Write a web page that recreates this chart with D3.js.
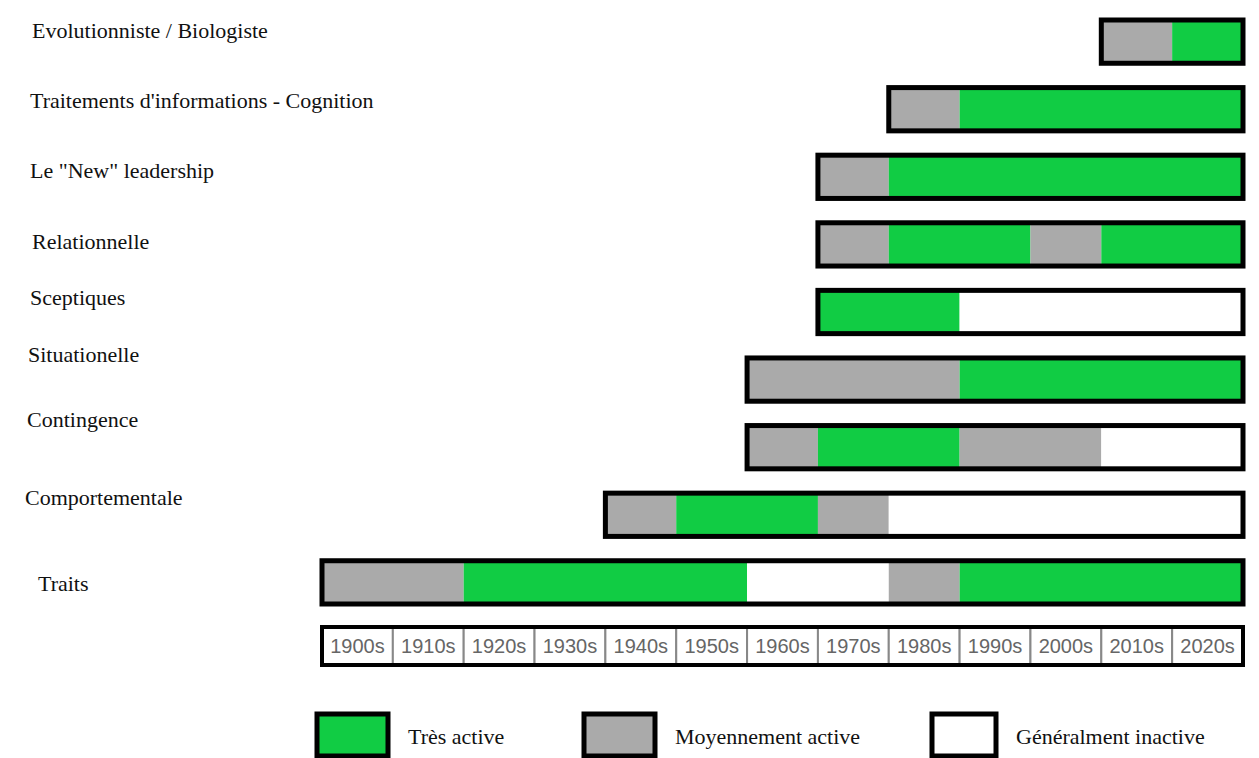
<!DOCTYPE html>
<html>
<head>
<meta charset="utf-8">
<script src="https://cdn.jsdelivr.net/npm/d3@7"></script>
<style>
  body { margin: 0; background: #fff; }
</style>
</head>
<body>
<div id="chart"></div>
<script>
// Theories (top to bottom)
const theories = [
    "Evolutionniste / Biologiste",
    "Traitements d'informations - Cognition",
    "Le \"New\" leadership",
    "Relationnelle",
    "Sceptiques",
    "Situationelle",
    "Contingence",
    "Comportementale",
    "Traits"
];

// Decades on the axis
const decades = ["1900s", "1910s", "1920s", "1930s", "1940s", "1950s", "1960s",
                 "1970s", "1980s", "1990s", "2000s", "2010s", "2020s"];

// Activity levels
const levels = ["Très active", "Moyennement active", "Généralment inactive"];

// Segments per theory: start year, end year, level index
const periods = [
    { theory: "Evolutionniste / Biologiste", start: 2010, end: 2020, level: 1 },
    { theory: "Evolutionniste / Biologiste", start: 2020, end: 2030, level: 0 },

    { theory: "Traitements d'informations - Cognition", start: 1980, end: 1990, level: 1 },
    { theory: "Traitements d'informations - Cognition", start: 1990, end: 2030, level: 0 },

    { theory: "Le \"New\" leadership", start: 1970, end: 1980, level: 1 },
    { theory: "Le \"New\" leadership", start: 1980, end: 2030, level: 0 },

    { theory: "Relationnelle", start: 1970, end: 1980, level: 1 },
    { theory: "Relationnelle", start: 1980, end: 2000, level: 0 },
    { theory: "Relationnelle", start: 2000, end: 2010, level: 1 },
    { theory: "Relationnelle", start: 2010, end: 2030, level: 0 },

    { theory: "Sceptiques", start: 1970, end: 1990, level: 0 },
    { theory: "Sceptiques", start: 1990, end: 2030, level: 2 },

    { theory: "Situationelle", start: 1960, end: 1990, level: 1 },
    { theory: "Situationelle", start: 1990, end: 2030, level: 0 },

    { theory: "Contingence", start: 1960, end: 1970, level: 1 },
    { theory: "Contingence", start: 1970, end: 1990, level: 0 },
    { theory: "Contingence", start: 1990, end: 2010, level: 1 },
    { theory: "Contingence", start: 2010, end: 2030, level: 2 },

    { theory: "Comportementale", start: 1940, end: 1950, level: 1 },
    { theory: "Comportementale", start: 1950, end: 1970, level: 0 },
    { theory: "Comportementale", start: 1970, end: 1980, level: 1 },
    { theory: "Comportementale", start: 1980, end: 2030, level: 2 },

    { theory: "Traits", start: 1900, end: 1920, level: 1 },
    { theory: "Traits", start: 1920, end: 1960, level: 0 },
    { theory: "Traits", start: 1960, end: 1980, level: 2 },
    { theory: "Traits", start: 1980, end: 1990, level: 1 },
    { theory: "Traits", start: 1990, end: 2030, level: 0 }
];

const width = 1259;
const height = 758;

// hand-placed label layout (the original labels aren't on a regular grid)
const labelX = [32, 30, 30, 32, 30, 28, 27, 25, 38];
const labelNudge = [0, 1, 2, 4, -9, -21, -25, -17, 0];
// legend swatch positions
const legendPos = [317, 584, 932];
const legendW = [71, 71, 64];

const svg = d3.select("#chart")
    .append("svg")
    .attr("width", width)
    .attr("height", height);

// x: years -> pixels
const x = d3.scaleLinear()
    .domain([1900, 2030])
    .range([322, 1243]);

// y: one band per theory
const y = d3.scaleBand()
    .domain(theories)
    .range([20, 604])
    .paddingInner(0.36);

const yLabel = d3.scalePoint()
    .domain(theories)
    .range([30, 583]);

const color = d3.scaleOrdinal()
    .domain(levels)
    .range(["#11cc44", "#aaaaaa", "#ffffff"]);

const serif = "'Liberation Serif', 'Times New Roman', serif";

// Theory labels
svg.append("g")
    .selectAll("text")
    .data(theories)
    .enter()
    .append("text")
    .attr("x", (d, i) => labelX[i])
    .attr("y", (d, i) => yLabel(d) + labelNudge[i])
    .attr("dy", "0.35em")
    .style("font-family", serif)
    .style("font-size", "22px")
    .style("fill", "#111")
    .text(d => d);

// Segment fills
svg.append("g")
    .selectAll("rect")
    .data(periods)
    .enter()
    .append("rect")
    .attr("x", d => x(d.start))
    .attr("y", d => y(d.theory))
    .attr("width", d => x(d.end) - x(d.start))
    .attr("height", y.bandwidth())
    .attr("fill", d => color(levels[d.level]));

// Outline around each theory's full span
const spans = d3.rollups(periods,
    v => ({ start: d3.min(v, d => d.start), end: d3.max(v, d => d.end) }),
    d => d.theory);

svg.append("g")
    .selectAll("rect")
    .data(spans)
    .enter()
    .append("rect")
    .attr("x", d => x(d[1].start))
    .attr("y", d => y(d[0]))
    .attr("width", d => x(d[1].end) - x(d[1].start))
    .attr("height", y.bandwidth())
    .attr("fill", "none")
    .attr("stroke", "#000")
    .attr("stroke-width", 5);

// Decade axis: a row of boxed cells
const xBand = d3.scaleBand()
    .domain(decades)
    .range([x(1900), x(2030)]);

const axisTop = 627;
const axisH = 38;

const axis = svg.append("g");

axis.selectAll("rect")
    .data(decades)
    .enter()
    .append("rect")
    .attr("x", d => xBand(d))
    .attr("y", axisTop)
    .attr("width", xBand.bandwidth())
    .attr("height", axisH)
    .attr("fill", "#fff")
    .attr("stroke", "#888")
    .attr("stroke-width", 2);

axis.selectAll("text")
    .data(decades)
    .enter()
    .append("text")
    .attr("x", d => xBand(d) + xBand.bandwidth() / 2)
    .attr("y", axisTop + axisH / 2)
    .attr("dy", "0.36em")
    .attr("text-anchor", "middle")
    .style("font-family", "'Liberation Sans', Arial, sans-serif")
    .style("font-size", "20px")
    .style("fill", "#666")
    .text(d => d);

axis.append("rect")
    .attr("x", x(1900))
    .attr("y", axisTop)
    .attr("width", x(2030) - x(1900))
    .attr("height", axisH)
    .attr("fill", "none")
    .attr("stroke", "#000")
    .attr("stroke-width", 4);

// Legend
const legend = svg.append("g");

levels.forEach((lv, i) => {
    const lx = legendPos[i];
    legend.append("rect")
        .attr("x", lx)
        .attr("y", 714)
        .attr("width", legendW[i])
        .attr("height", 42)
        .attr("fill", color(lv))
        .attr("stroke", "#000")
        .attr("stroke-width", 5);

    legend.append("text")
        .attr("x", lx + legendW[i] + 20)
        .attr("y", 736)
        .attr("dy", "0.35em")
        .style("font-family", serif)
        .style("font-size", "22px")
        .style("fill", "#111")
        .text(lv);
});
</script>
</body>
</html>
